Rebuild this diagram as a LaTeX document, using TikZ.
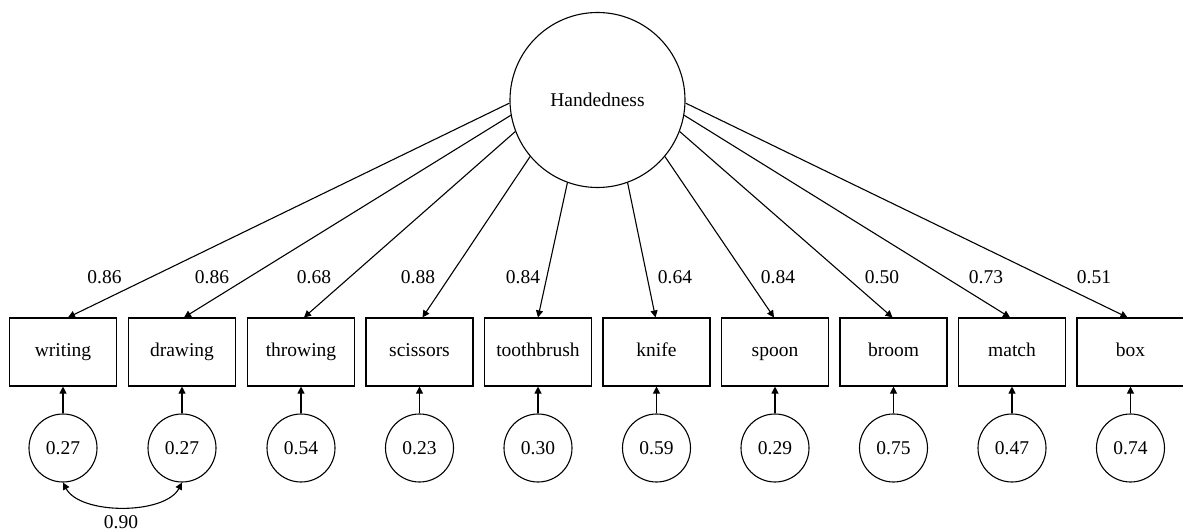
\documentclass[tikz,border=0pt]{standalone}
\usepackage{fontspec}
\setmainfont{Liberation Serif}
\newfontfamily\figfont{Liberation Serif}
\usetikzlibrary{arrows.meta}
\begin{document}
\begin{tikzpicture}[x=1bp,y=-1bp,
  every node/.style={font=\figfont\fontsize{19.5bp}{23bp}\selectfont, inner sep=0pt},
  latent/.style={draw, circle, line width=1.1bp, minimum size=175bp},
  manifest/.style={draw, rectangle, line width=1.1bp, minimum width=107bp, minimum height=68bp, text height=13.5bp, text depth=4.5bp},
  errnode/.style={draw, circle, line width=1.1bp, minimum size=68bp},
  path/.style={line width=1.1bp, -{Triangle[length=7bp,width=7bp]}},
  cov/.style={line width=1.1bp, {Triangle[length=7bp,width=7bp]}-{Triangle[length=7bp,width=7bp]}}]
\useasboundingbox (0,0) rectangle (1183,531);
\node[latent] (lat) at (597.5,100) {Handedness};
\foreach \i/\x/\t in {1/63/writing,2/182/drawing,3/301/throwing,4/419.5/scissors,5/538/toothbrush,6/656.5/knife,7/775/spoon,8/893.5/broom,9/1012/match,10/1130.5/box}{
  \node[manifest] (b\i) at (\x,352) {\t};
}
\foreach \i/\x/\v in {1/63/0.27,2/182/0.27,3/301/0.54,4/419.5/0.23,5/538/0.30,6/656.5/0.59,7/775/0.29,8/893.5/0.75,9/1012/0.47,10/1130.5/0.74}{
  \node[errnode] (e\i) at (\x,448) {\v};
  \draw[path] (e\i) -- (b\i);
}
\foreach \i/\a/\dx in {1/182/5,2/190/2,3/201/3,4/220/3,5/250/0,6/290/-1,7/320/-1,8/339/-1,9/350/-2,10/358/-3}{
  \draw[path] (lat.\a) -- ([xshift=\dx bp]b\i.north);
}
\node (l1) at (104.5,277) {0.86};
\node (l2) at (212,277) {0.86};
\node (l3) at (314,277) {0.68};
\node (l4) at (418,277) {0.88};
\node (l5) at (523,277) {0.84};
\node (l6) at (675,277) {0.64};
\node (l7) at (778,277) {0.84};
\node (l8) at (882,277) {0.50};
\node (l9) at (986,277) {0.73};
\node (l10) at (1094,277) {0.51};
\draw[cov] (e1.south) .. controls (80,515) and (165,515) .. (e2.south);
\node (l11) at (121,522) {0.90};
\end{tikzpicture}
\end{document}
